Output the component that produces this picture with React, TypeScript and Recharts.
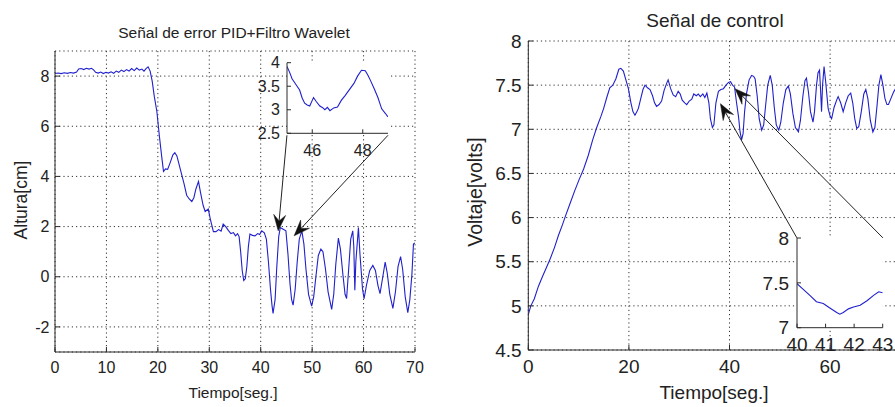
import React from 'react';
import { LineChart, Line, XAxis, YAxis, CartesianGrid, ReferenceLine } from 'recharts';

// ---- Left: Señal de error PID+Filtro Wavelet ----
const errorTime = [0, 0.6, 1.2, 1.8, 2.4, 3, 3.6, 4.2, 4.6, 5.1, 5.6, 6.1, 6.6, 7.1, 7.5, 7.9, 8.4, 8.9, 9.4, 9.9, 10.4, 10.9, 11.4, 11.9, 12.4, 12.9, 13.4, 13.9, 14.4, 14.9, 15.4, 15.9, 16.4, 16.9, 17.3, 17.7, 18.1, 18.5, 18.9, 19.3, 19.8, 20.3, 20.8, 21.1, 21.5, 21.9, 22.4, 22.9, 23.3, 23.7, 24.1, 24.6, 25.1, 25.6, 26.1, 26.6, 27.0, 27.4, 27.9, 28.3, 28.8, 29.2, 29.8, 30.2, 30.8, 31.3, 31.8, 32.3, 32.7, 33.2, 33.7, 34.2, 34.7, 35.1, 35.5, 35.8, 36.1, 36.4, 36.7, 37.0, 37.3, 37.6, 37.9, 38.4, 38.9, 39.4, 39.8, 40.2, 40.7, 41.1, 41.5, 41.9, 42.2, 42.4, 42.8, 43.1, 43.5, 43.8, 44.3, 44.9, 45.3, 45.7, 46.0, 46.3, 46.7, 47.1, 47.5, 48.0, 48.4, 48.8, 49.3, 49.9, 50.3, 50.7, 51.2, 51.7, 52.1, 52.6, 53.1, 53.8, 54.2, 54.6, 55.1, 55.5, 56.0, 56.4, 56.7, 57.1, 57.5, 57.9, 58.1, 58.3, 58.5, 59.0, 59.3, 59.8, 60.1, 60.6, 61.2, 61.8, 62.3, 62.8, 63.2, 63.7, 64.2, 64.6, 65.1, 65.7, 66.2, 66.7, 67.2, 67.6, 68.1, 68.6, 69.0, 69.4, 69.7, 70];
const errorHeight = [8.1, 8.12, 8.1, 8.13, 8.11, 8.14, 8.12, 8.16, 8.28, 8.3, 8.26, 8.31, 8.28, 8.31, 8.25, 8.15, 8.12, 8.16, 8.1, 8.15, 8.12, 8.17, 8.11, 8.2, 8.15, 8.24, 8.18, 8.26, 8.2, 8.3, 8.22, 8.32, 8.24, 8.28, 8.2, 8.3, 8.37, 8.2, 7.8, 7.2, 6.6, 5.6, 4.7, 4.2, 4.3, 4.28, 4.55, 4.85, 4.95, 4.82, 4.5, 4.1, 3.7, 3.25, 3.1, 3.0, 3.15, 3.5, 3.8, 3.35, 2.85, 2.6, 2.7, 2.3, 1.8, 1.8, 1.88, 1.82, 2.1, 2.0, 1.85, 1.72, 1.76, 1.63, 1.72, 1.6, 1.0, 0.25, -0.15, -0.08, 0.4, 1.2, 1.7, 1.65, 1.63, 1.72, 1.68, 1.83, 1.75, 1.5, 0.6, -0.5, -1.15, -1.46, -0.9, 0.3, 1.6, 1.96, 1.9, 1.83, 0.9, -0.3, -0.9, -1.13, -0.5, 0.6, 1.5, 1.83, 1.3, 0.3, -0.7, -1.17, -0.8, -0.05, 0.85, 1.1, 1.0, 0.3, -0.6, -1.3, -0.7, 0.5, 1.54, 1.1, 0.05, -0.7, -0.87, 0.3, 1.5, 1.83, 1.2, -0.54, 0.6, 1.96, 0.9, -0.5, -0.87, -0.3, 0.25, 0.45, 0.25, -0.35, -0.67, -0.05, 0.58, 0.15, -0.7, -1.26, -0.6, 0.4, 0.8, 0.3, -0.8, -1.43, -0.9, 0.1, 1.3, 1.35];
const errorXTicks = [0, 10, 20, 30, 40, 50, 60, 70];
const errorYTicks = [-2, 0, 2, 4, 6, 8];

const zoomErrTime = [45.0, 45.1, 45.2, 45.3, 45.4, 45.5, 45.6, 45.7, 45.8, 45.9, 46.0, 46.05, 46.15, 46.3, 46.4, 46.5, 46.6, 46.7, 46.85, 47.0, 47.15, 47.3, 47.5, 47.65, 47.8, 47.95, 48.1, 48.2, 48.3, 48.45, 48.6, 48.75, 48.9, 49.0];
const zoomErrHeight = [3.92, 3.8, 3.66, 3.58, 3.5, 3.42, 3.25, 3.14, 3.1, 3.08, 3.2, 3.26, 3.18, 3.08, 3.05, 3.0, 3.05, 2.98, 3.04, 3.06, 3.2, 3.3, 3.45, 3.56, 3.72, 3.84, 3.83, 3.74, 3.63, 3.45, 3.26, 3.02, 2.92, 2.85];
const zoomErrXTicks = [46, 48];
const zoomErrYTicks = [2.5, 3, 3.5, 4];

// ---- Right: Señal de control ----
const controlTime = [0, 0.5, 1.2, 2, 2.8, 3.5, 4.4, 5.2, 6, 6.8, 7.4, 8.3, 9.2, 10.1, 11, 11.9, 12.8, 13.6, 14.4, 15, 15.6, 16.2, 16.8, 17.4, 18.0, 18.4, 18.9, 19.3, 19.9, 20.4, 20.8, 21.2, 21.6, 21.9, 22.4, 22.8, 23.2, 23.7, 24.2, 24.7, 25.1, 25.5, 26, 26.5, 27, 27.5, 27.8, 28.3, 28.8, 29.3, 29.8, 30.2, 30.6, 31.1, 31.5, 32, 32.5, 32.9, 33.4, 33.8, 34.2, 34.7, 35.1, 35.5, 35.9, 36.2, 36.6, 36.9, 37.3, 37.8, 38.3, 38.8, 39.3, 39.8, 40.2, 40.6, 41.0, 41.4, 41.8, 42.1, 42.4, 42.7, 43.0, 43.4, 43.9, 44.4, 44.8, 45.1, 45.5, 45.9, 46.4, 46.8, 47.2, 47.6, 48.1, 48.5, 48.9, 49.3, 49.8, 50.2, 50.7, 51.2, 51.7, 52.1, 52.6, 53.1, 53.7, 54.1, 54.6, 55.0, 55.3, 55.7, 56.1, 56.6, 56.9, 57.3, 57.6, 57.9, 58.1, 58.3, 58.5, 58.8, 59.1, 59.6, 60.0, 60.3, 60.8, 61.3, 61.6, 62.1, 62.6, 63.1, 63.6, 64.1, 64.5, 64.9, 65.3, 65.7, 66.2, 66.7, 67.1, 67.5, 68.0, 68.5, 68.9, 69.3, 69.7, 70.1, 70.5, 70.9, 71.3, 71.6, 72.1, 72.6, 72.9, 73.4, 74, 74.6, 75.2, 75.8];
const controlVolts = [4.9, 5.0, 5.08, 5.22, 5.33, 5.42, 5.54, 5.66, 5.8, 5.92, 6.02, 6.16, 6.3, 6.43, 6.55, 6.7, 6.88, 7.02, 7.14, 7.24, 7.36, 7.47, 7.5, 7.57, 7.68, 7.69, 7.66, 7.58, 7.46, 7.3, 7.2, 7.16, 7.2, 7.24, 7.36, 7.45, 7.5, 7.47, 7.45, 7.38, 7.3, 7.26, 7.28, 7.32, 7.44, 7.52, 7.56, 7.46, 7.39, 7.37, 7.43, 7.4, 7.33, 7.3, 7.28, 7.32, 7.34, 7.4, 7.38, 7.4, 7.37, 7.4, 7.36, 7.41, 7.3, 7.12, 7.02, 7.05, 7.3, 7.43, 7.45, 7.46, 7.5, 7.53, 7.54, 7.5, 7.48, 7.3, 7.14, 6.97, 6.88, 6.95, 7.2, 7.41, 7.56, 7.61, 7.6, 7.57, 7.38, 7.12, 6.99, 7.05, 7.28, 7.5, 7.61, 7.5, 7.25, 7.05, 6.99, 7.08, 7.3, 7.45, 7.49, 7.4, 7.18, 7.02, 6.97, 7.1, 7.38, 7.55, 7.58, 7.42, 7.2, 7.08, 7.2, 7.5, 7.64, 7.67, 7.45, 7.2, 7.5, 7.71, 7.55, 7.24, 7.15, 7.12, 7.25, 7.33, 7.37, 7.3, 7.2, 7.3, 7.38, 7.41, 7.3, 7.12, 7.01, 7.03, 7.2, 7.4, 7.45, 7.35, 7.1, 6.97, 7.02, 7.25, 7.5, 7.62, 7.5, 7.35, 7.28, 7.28, 7.35, 7.42, 7.45, 7.38, 7.25, 7.15, 7.3, 7.5];
const controlXTicks = [0, 20, 40, 60];
const controlYTicks = [4.5, 5, 5.5, 6, 6.5, 7, 7.5, 8];

const zoomCtrlTime = [40, 40.21, 40.45, 40.68, 40.92, 41.15, 41.39, 41.5, 41.62, 41.8, 41.98, 42.21, 42.45, 42.68, 42.86, 43];
const zoomCtrlVolts = [7.49, 7.43, 7.36, 7.29, 7.27, 7.22, 7.17, 7.15, 7.17, 7.21, 7.23, 7.25, 7.3, 7.36, 7.4, 7.39];
const zoomCtrlXTicks = [40, 41, 42, 43];
const zoomCtrlYTicks = [7, 7.5, 8];

// arrows: [fromT, fromV, toT, toV] in data units of the main axes
const errorArrows = [
  [45.1, 5.64, 43.4, 1.83],
  [64.75, 5.64, 46.5, 1.63],
];
const controlArrows = [
  [53.4, 5.77, 38.2, 7.29],
  [70.5, 5.77, 41.1, 7.46],
];

const zip = (t: number[], v: number[]) => t.map((x, i) => ({ t: x, v: v[i] }));
const errorData = zip(errorTime, errorHeight);
const zoomErrData = zip(zoomErrTime, zoomErrHeight);
const controlData = zip(controlTime, controlVolts);
const zoomCtrlData = zip(zoomCtrlTime, zoomCtrlVolts);

const FONT = "'Liberation Sans', Arial, sans-serif";
const TXT = '#222';
const AX = '#2a2a2a';
const BLUE = '#2020cc';

const ArrowShape = (props: any) => {
  const { x1, y1, x2, y2 } = props;
  if ([x1, y1, x2, y2].some((v) => typeof v !== 'number' || isNaN(v))) return <g />;
  const dx = x2 - x1;
  const dy = y2 - y1;
  const len = Math.hypot(dx, dy) || 1;
  const ux = dx / len;
  const uy = dy / len;
  const nx = -uy;
  const ny = ux;
  const L = 16;
  const W = 6;
  const N = 10;
  const bx = x2 - ux * L;
  const by = y2 - uy * L;
  const pts = [
    [x2, y2],
    [bx + nx * W, by + ny * W],
    [x2 - ux * N, y2 - uy * N],
    [bx - nx * W, by - ny * W],
  ]
    .map((p) => p.join(','))
    .join(' ');
  return (
    <g>
      <line x1={x1} y1={y1} x2={x2 - ux * N} y2={y2 - uy * N} stroke="#222" strokeWidth={1} />
      <polygon points={pts} fill="#111" stroke="#111" strokeWidth={0.5} />
    </g>
  );
};

type PanelProps = {
  data: { t: number; v: number }[];
  width: number;
  height: number;
  margin: { top: number; right: number; bottom: number; left: number };
  yWidth: number;
  xHeight: number;
  xDomain: [number, number];
  yDomain: [number, number];
  xTicks: number[];
  yTicks: number[];
  fontSize: number;
  xTickMargin: number;
  yTickMargin: number;
  tickLen: number;
  grid: boolean;
  arrows?: number[][];
};

const Panel = (p: PanelProps) => {
  const tickStyle = { fontSize: p.fontSize, fill: TXT, fontFamily: FONT };
  const fmt = (v: number) => String(v);
  return (
    <LineChart width={p.width} height={p.height} data={p.data} margin={p.margin}>
      {p.grid ? (
        <CartesianGrid stroke="#333" strokeDasharray="1.2 3" strokeWidth={1} />
      ) : (
        <CartesianGrid horizontal={false} vertical={false} fill="#fff" />
      )}
      <XAxis
        dataKey="t"
        type="number"
        domain={p.xDomain}
        ticks={p.xTicks}
        interval={0}
        allowDataOverflow
        height={p.xHeight}
        tickSize={-p.tickLen}
        tickMargin={p.xTickMargin}
        tick={tickStyle}
        tickFormatter={fmt}
        stroke={AX}
        tickLine={{ stroke: AX }}
        axisLine={{ stroke: AX }}
      />
      <XAxis
        xAxisId="top"
        orientation="top"
        dataKey="t"
        type="number"
        domain={p.xDomain}
        ticks={p.xTicks}
        interval={0}
        allowDataOverflow
        height={0}
        tickSize={-p.tickLen}
        tickFormatter={() => ''}
        stroke={AX}
        tickLine={{ stroke: AX }}
        axisLine={{ stroke: AX }}
      />
      <YAxis
        type="number"
        domain={p.yDomain}
        ticks={p.yTicks}
        interval={0}
        allowDataOverflow
        width={p.yWidth}
        tickSize={-p.tickLen}
        tickMargin={p.yTickMargin}
        tick={tickStyle}
        tickFormatter={fmt}
        stroke={AX}
        tickLine={{ stroke: AX }}
        axisLine={{ stroke: AX }}
      />
      <YAxis
        yAxisId="right"
        orientation="right"
        type="number"
        domain={p.yDomain}
        ticks={p.yTicks}
        interval={0}
        allowDataOverflow
        width={0}
        tickSize={-p.tickLen}
        tickFormatter={() => ''}
        stroke={AX}
        tickLine={{ stroke: AX }}
        axisLine={{ stroke: AX }}
      />
      <Line
        type="linear"
        dataKey="v"
        stroke={BLUE}
        strokeWidth={1.1}
        dot={false}
        activeDot={false}
        isAnimationActive={false}
      />
      {(p.arrows || []).map((a, i) => (
        <ReferenceLine
          key={i}
          segment={[
            { x: a[0], y: a[1] },
            { x: a[2], y: a[3] },
          ]}
          shape={ArrowShape}
          ifOverflow="visible"
        />
      ))}
    </LineChart>
  );
};

export default function App() {
  return (
    <div
      style={{
        position: 'fixed',
        left: 0,
        top: 0,
        width: 895,
        height: 407,
        overflow: 'hidden',
        background: '#fff',
      }}
    >
      {/* left main */}
      <div style={{ position: 'absolute', left: 0, top: 0 }}>
        <Panel
          data={errorData}
          width={450}
          height={407}
          margin={{ top: 51, right: 35, bottom: 0, left: 0 }}
          yWidth={55}
          xHeight={55}
          xDomain={[0, 70]}
          yDomain={[-3, 9]}
          xTicks={errorXTicks}
          yTicks={errorYTicks}
          fontSize={16}
          xTickMargin={14.6}
          yTickMargin={10.5}
          tickLen={5}
          grid
          arrows={errorArrows}
        />
      </div>
      {/* left inset */}
      <div style={{ position: 'absolute', left: 230, top: 40 }}>
        <Panel
          data={zoomErrData}
          width={170}
          height={130}
          margin={{ top: 22.7, right: 12, bottom: 6.7, left: 0 }}
          yWidth={57}
          xHeight={30}
          xDomain={[45, 49]}
          yDomain={[2.5, 4]}
          xTicks={zoomErrXTicks}
          yTicks={zoomErrYTicks}
          fontSize={16}
          xTickMargin={15}
          yTickMargin={11}
          tickLen={4}
          grid={false}
        />
      </div>
      {/* right main */}
      <div style={{ position: 'absolute', left: 440, top: 0 }}>
        <Panel
          data={controlData}
          width={500}
          height={407}
          margin={{ top: 41, right: 9.3, bottom: 0, left: 0 }}
          yWidth={88.3}
          xHeight={57}
          xDomain={[0, 80]}
          yDomain={[4.5, 8]}
          xTicks={controlXTicks}
          yTicks={controlYTicks}
          fontSize={19}
          xTickMargin={15}
          yTickMargin={11.6}
          tickLen={5}
          grid
          arrows={controlArrows}
        />
      </div>
      {/* right inset */}
      <div style={{ position: 'absolute', left: 740, top: 220 }}>
        <Panel
          data={zoomCtrlData}
          width={155}
          height={140}
          margin={{ top: 18, right: 12.3, bottom: 2.3, left: 0 }}
          yWidth={57}
          xHeight={30}
          xDomain={[40, 43]}
          yDomain={[7, 8]}
          xTicks={zoomCtrlXTicks}
          yTicks={zoomCtrlYTicks}
          fontSize={19}
          xTickMargin={13.5}
          yTickMargin={12}
          tickLen={4}
          grid={false}
        />
      </div>
      {/* titles & axis labels */}
      <svg
        width={895}
        height={407}
        style={{ position: 'absolute', left: 0, top: 0, pointerEvents: 'none' }}
      >
        <g fill={TXT} fontFamily={FONT}>
          <text x={234} y={32} textAnchor="middle" dominantBaseline="central" fontSize={15.5}>
            Señal de error PID+Filtro Wavelet
          </text>
          <text x={233} y={392} textAnchor="middle" dominantBaseline="central" fontSize={15.5}>
            Tiempo[seg.]
          </text>
          <text
            x={21}
            y={200}
            textAnchor="middle"
            dominantBaseline="central"
            fontSize={17.5}
            transform="rotate(-90 21 200)"
          >
            Altura[cm]
          </text>
          <text x={715} y={20} textAnchor="middle" dominantBaseline="central" fontSize={19}>
            Señal de control
          </text>
          <text x={714} y={392} textAnchor="middle" dominantBaseline="central" fontSize={19}>
            Tiempo[seg.]
          </text>
          <text
            x={475}
            y={192}
            textAnchor="middle"
            dominantBaseline="central"
            fontSize={19.5}
            transform="rotate(-90 475 192)"
          >
            Voltaje[volts]
          </text>
        </g>
      </svg>
    </div>
  );
}
